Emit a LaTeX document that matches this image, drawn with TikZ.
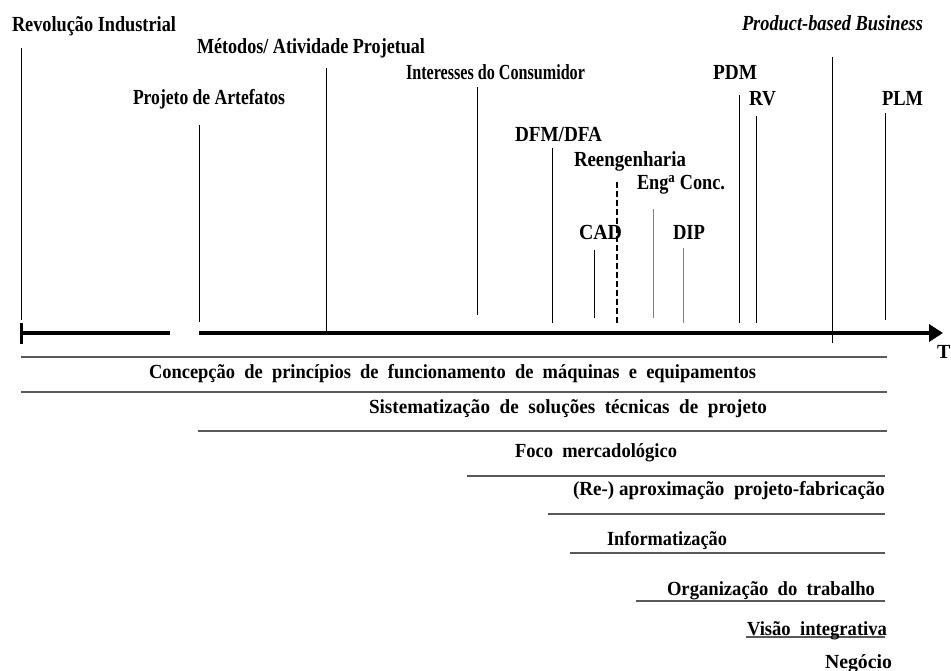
\documentclass[tikz,border=0pt]{standalone}
\usepackage{fontspec}
\setmainfont{Liberation Serif}
\usetikzlibrary{arrows.meta}
% squeeze a label horizontally to a given width, keeping its height
\newcommand\fitto[2]{\resizebox{#1}{\height}{#2}}
\begin{document}
\begin{tikzpicture}[x=1pt,y=-1pt,
  lbl/.style={inner sep=0pt, outer sep=0pt, anchor=base west,
    font=\bfseries\fontsize{21.5}{24}\selectfont},
  lowlbl/.style={lbl, font=\bfseries\fontsize{20}{22}\selectfont},
  tickline/.style={line width=0.9pt, black},
  softtick/.style={line width=1pt, black!50},
  band/.style={line width=1.2pt, black!65},
  axisline/.style={line width=3.5pt, black}]
\useasboundingbox (0,0) rectangle (951,671);

% milestone labels
\node[lbl] (rev)   at (12,32)  {\fitto{164pt}{Revolução Industrial}};
\node[lbl] (met)   at (197,54) {\fitto{228pt}{Métodos/ Atividade Projetual}};
\node[lbl] (art)   at (133,105){\fitto{152pt}{Projeto de Artefatos}};
\node[lbl] (cons)  at (406,80) {\fitto{179pt}{Interesses do Consumidor}};
\node[lbl] (dfm)   at (515,142){\fitto{87pt}{DFM/DFA}};
\node[lbl] (reeng) at (574,167){\fitto{112pt}{Reengenharia}};
\node[lbl] (eng)   at (637,190){\fitto{88pt}{Eng\textsuperscript{a} Conc.}};
\node[lbl] (cad)   at (579,240){\fitto{43pt}{CAD}};
\node[lbl] (dip)   at (673,240){\fitto{32pt}{DIP}};
\node[lbl] (pdm)   at (713,80) {\fitto{44pt}{PDM}};
\node[lbl] (rv)    at (749,106){\fitto{27pt}{RV}};
\node[lbl] (plm)   at (882,106){\fitto{41pt}{PLM}};
\node[lbl, font=\bfseries\itshape\fontsize{21.5}{24}\selectfont] (pbb) at (742,31)
  {\fitto{181pt}{Product-based Business}};

% milestone ticks
\draw[tickline] (21,48)   -- (21,320);
\draw[tickline] (199,125) -- (199,322);
\draw[tickline] (326,68)  -- (326,331);
\draw[tickline] (477,87)  -- (477,315);
\draw[tickline] (552,148) -- (552,323);
\draw[tickline] (594,250) -- (594,318);
\draw[tickline, dash pattern=on 6pt off 3pt, line width=1.2pt] (617,182) -- (617,323);
\draw[softtick] (653,209) -- (653,318);
\draw[softtick] (683,248) -- (683,323);
\draw[tickline] (739,95)  -- (739,323);
\draw[tickline] (756,116) -- (756,323);
\draw[tickline] (832,57)  -- (832,343);
\draw[tickline] (885,113) -- (885,320);

% time axis
\coordinate (a0) at (21,333);
\coordinate (a1) at (170,333);
\coordinate (a2) at (199,333);
\coordinate (a3) at (943,333);
\draw[line width=3pt] (21,323) -- (21,344);
\draw[axisline] (a0) -- (a1);
\draw[axisline, -{Triangle[length=14pt,width=17pt]}] (a2) -- (a3);
\node[lowlbl] (t) at (937,358) {T};

% period bands
\draw[band] (21,357)  -- (887,357);
\draw[band] (21,392)  -- (887,392);
\draw[band] (198,431) -- (887,431);
\draw[band] (467,476) -- (885,476);
\draw[band] (548,514) -- (885,514);
\draw[band] (570,553) -- (885,553);
\draw[band] (636,601) -- (885,601);
\draw[band] (746,637) -- (885,637);

\node[lowlbl] (conc) at (149,378) {\fitto{607pt}{Concepção \ de \ princípios \ de \ funcionamento \ de \ máquinas \ e \ equipamentos}};
\node[lowlbl] (sist) at (369,413) {\fitto{398pt}{Sistematização \ de \ soluções \ técnicas \ de \ projeto}};
\node[lowlbl] (foco) at (515,457) {\fitto{162pt}{Foco \ mercadológico}};
\node[lowlbl] (reap) at (573,495) {\fitto{312pt}{(Re-) aproximação \ projeto-fabricação}};
\node[lowlbl] (info) at (607,545) {\fitto{120pt}{Informatização}};
\node[lowlbl] (org)  at (667,595) {\fitto{208pt}{Organização \ do \ trabalho}};
\node[lowlbl] (vis)  at (747,635) {\fitto{140pt}{Visão \ integrativa}};
\node[lowlbl] (neg)  at (825,668) {\fitto{67pt}{Negócio}};
\end{tikzpicture}
\end{document}
